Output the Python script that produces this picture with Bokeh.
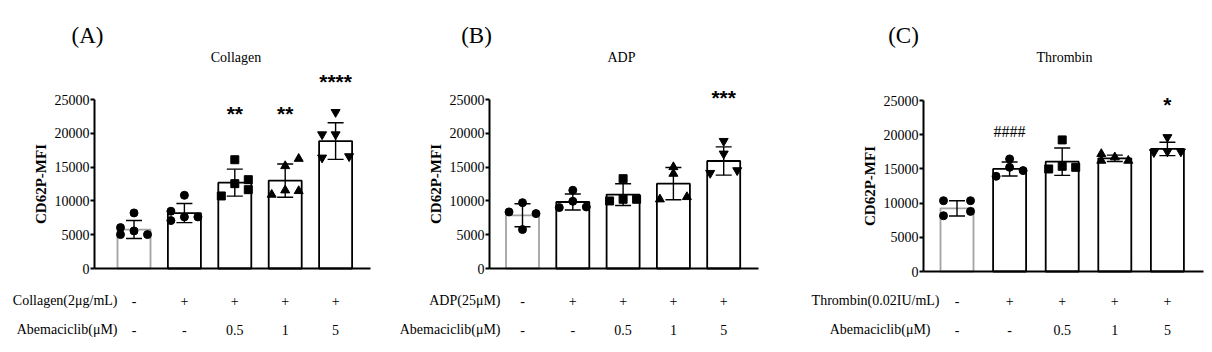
from bokeh.plotting import figure
from bokeh.layouts import row
from bokeh.models import Range1d, FixedTicker, NumeralTickFormatter, Label
from bokeh.embed import file_html
from bokeh.resources import INLINE

# ---------------- data ----------------
GROUPS = [1, 2, 3, 4, 5]
AGONIST_SIGNS = ["-", "+", "+", "+", "+"]
ABEMA_DOSES = ["-", "-", "0.5", "1", "5"]
Y_TICKS = [0, 5000, 10000, 15000, 20000, 25000]
MARKERS = ["circle", "circle", "square", "triangle", "inverted_triangle"]

A_TITLE = "Collagen"
A_ROW1 = "Collagen(2μg/mL)"
A_MEAN = [5760, 8200, 12700, 13000, 18850]
A_SD = [1330, 1420, 2000, 2450, 2700]
A_PTS = [[5020, 6050, 8220, 5560, 5020],
         [8470, 7090, 10830, 7630, 7630],
         [10730, 12550, 16090, 13140, 11660],
         [10930, 11570, 15160, 16240, 11470],
         [19830, 16390, 19830, 23130, 16590]]
A_SLOTS = [[-1, -1, 0, 0, 1], [-1, -1, 0, 0, 1], [-1, 0, 0, 1, 1],
           [-1, 0, 0, 1, 1], [-1, -1, 0, 0, 1]]
A_SIG = ["", "", "**", "**", "****"]
A_SIG_Y = [0, 0, 22950, 22950, 27650]

B_TITLE = "ADP"
B_ROW1 = "ADP(25μM)"
B_MEAN = [7870, 9840, 10930, 12550, 15900]
B_SD = [1700, 1180, 1600, 2390, 2090]
B_PTS = [[8370, 9740, 8120, 5760],
         [9010, 11570, 9940, 9100],
         [9990, 13290, 10240, 10240],
         [10240, 15010, 14030, 10580],
         [14120, 18850, 16980, 14520]]
B_SLOTS = [[-1, 0, 1, 0], [-1, 0, 0, 1], [-1, 0, 0, 1], [-1, 0, 0, 1], [-1, 0, 0, 1]]
B_SIG = ["", "", "", "", "***"]
B_SIG_Y = [0, 0, 0, 0, 25300]

C_TITLE = "Thrombin"
C_ROW1 = "Thrombin(0.02IU/mL)"
C_MEAN = [9230, 14990, 16060, 16550, 17920]
C_SD = [1120, 1025, 2000, 464, 977]
C_PTS = [[10350, 10350, 8150, 8790],
         [13920, 16460, 15230, 14750],
         [14990, 19240, 15380, 15230],
         [17190, 16210, 16700, 16210],
         [17430, 19630, 17530, 17530]]
C_SLOTS = [[-1, 1, -1, 1], [-1, 0, 0, 1], [-1, 0, 0, 1], [-1, -1, 0, 1], [-1, 0, 0, 1]]
C_SIG = ["", "####", "", "", "*"]
C_SIG_Y = [0, 20400, 0, 0, 24350]

ROW2 = "Abemaciclib(μM)"

SERIF = "Liberation Serif"
SANS = "Liberation Sans"
GRAY = "#a3a3a3"
H = 352


def panel(letter, title, row1, mean, sd, pts, slots, sig, sig_y, lay):
    x0 = lay["x0"]
    w = lay["w"]
    sp = lay["sp"]
    y0 = lay["y0"]
    y25 = lay["y25"]
    kpx = 25000.0 / (y0 - y25)  # data per px

    def dx(px_abs):
        return 1 + (px_abs - lay["first"]) / sp

    def dy(py):
        return (y0 - py) * kpx

    p = figure(width=w, height=H, output_backend="svg", toolbar_location=None,
               x_range=Range1d(dx(x0), dx(x0 + w)),
               y_range=Range1d(dy(H), dy(0)),
               min_border=0)
    p.outline_line_color = None
    p.grid.visible = False
    p.background_fill_color = "white"
    p.border_fill_color = "white"

    # y axis
    ya = p.yaxis[0]
    ya.fixed_location = dx(lay["axis"])
    ya.ticker = FixedTicker(ticks=Y_TICKS)
    ya.formatter = NumeralTickFormatter(format="0")
    ya.bounds = (0, 25000)
    ya.axis_line_width = 2
    ya.major_tick_line_width = 2
    ya.major_tick_out = 4
    ya.major_tick_in = 0
    ya.minor_tick_line_color = None
    ya.major_label_standoff = 1
    ya.major_label_text_font = SERIF
    ya.major_label_text_font_size = "14px"
    ya.major_label_text_color = "black"
    ya.axis_label = "CD62P-MFI"
    ya.axis_label_text_font = SERIF
    ya.axis_label_text_font_style = "bold"
    ya.axis_label_text_font_size = "15px"
    ya.axis_label_standoff = 3
    ya.axis_label_text_color = "black"

    xa = p.xaxis[0]
    xa.fixed_location = 0
    xa.bounds = (dx(lay["axis"]), dx(lay["end"]))
    xa.ticker = FixedTicker(ticks=[])
    xa.axis_line_width = 2
    xa.major_tick_line_color = None
    xa.minor_tick_line_color = None
    xa.major_label_text_font_size = "0px"

    bw = 33.0 / sp
    line_colors = [GRAY] + ["black"] * (len(GROUPS) - 1)
    p.vbar(x=GROUPS, top=mean, width=bw, bottom=0, fill_color="white",
           line_color=line_colors, line_width=1.8)

    up = [m + s for m, s in zip(mean, sd)]
    lo = [m - s for m, s in zip(mean, sd)]
    cap = 8.0 / sp
    p.segment(x0=GROUPS, y0=lo, x1=GROUPS, y1=up, line_color="black", line_width=1.4)
    p.segment(x0=[g - cap for g in GROUPS], y0=up, x1=[g + cap for g in GROUPS], y1=up,
              line_color="black", line_width=1.4)
    p.segment(x0=[g - cap for g in GROUPS], y0=lo, x1=[g + cap for g in GROUPS], y1=lo,
              line_color="black", line_width=1.4)

    off = 13.5 / sp
    for g, vals, sl, mk in zip(GROUPS, pts, slots, MARKERS):
        xs = [g + s * off for s in sl]
        size = 8 if mk in ("circle", "square") else 9
        p.scatter(x=xs, y=vals, marker=mk, size=size, fill_color="black", line_color="black")

    for g, s, yy in zip(GROUPS, sig, sig_y):
        if not s:
            continue
        if "*" in s:
            p.add_layout(Label(x=g, y=yy, text=s, text_font=SANS, text_font_style="bold",
                               text_font_size="21px", text_align="center",
                               text_baseline="middle", text_color="black"))
        else:
            p.add_layout(Label(x=g, y=yy, text=s, text_font=SERIF,
                               text_font_size="16px", text_align="center",
                               text_baseline="middle", text_color="black"))

    # panel letter and title
    p.add_layout(Label(x=dx(lay["letter"]), y=dy(35), text=letter, text_font=SERIF,
                       text_font_size="23px", text_align="center", text_baseline="middle",
                       text_color="black"))
    p.add_layout(Label(x=dx(lay["title"]), y=dy(57), text=title, text_font=SERIF,
                       text_font_size="14px", text_align="center", text_baseline="middle",
                       text_color="black"))

    # condition rows
    p.add_layout(Label(x=dx(lay["r1"]), y=dy(300), text=row1, text_font=SERIF,
                       text_font_size="14px", text_align="right", text_baseline="middle",
                       text_color="black"))
    p.add_layout(Label(x=dx(lay["r2"]), y=dy(329), text=ROW2, text_font=SERIF,
                       text_font_size="14px", text_align="right", text_baseline="middle",
                       text_color="black"))
    for g, a, b in zip(GROUPS, AGONIST_SIGNS, ABEMA_DOSES):
        p.add_layout(Label(x=g, y=dy(300), text=a, text_font=SERIF, text_font_size="14px",
                           text_align="center", text_baseline="middle", text_color="black"))
        p.add_layout(Label(x=g, y=dy(329), text=b, text_font=SERIF, text_font_size="14px",
                           text_align="center", text_baseline="middle", text_color="black"))
    return p


LAY_A = dict(x0=0, w=395, axis=94, end=370, first=133.5, sp=50.4, y0=268, y25=99,
             letter=87, title=235.5, r1=117, r2=117)
LAY_B = dict(x0=395, w=405, axis=489, end=758, first=522, sp=50.3, y0=268, y25=99,
             letter=476, title=621, r1=500, r2=500)
LAY_C = dict(x0=800, w=412, axis=923, end=1203, first=956.5, sp=52.6, y0=271, y25=100,
             letter=903, title=1064, r1=939, r2=930)

pa = panel("(A)", A_TITLE, A_ROW1, A_MEAN, A_SD, A_PTS, A_SLOTS, A_SIG, A_SIG_Y, LAY_A)
pb = panel("(B)", B_TITLE, B_ROW1, B_MEAN, B_SD, B_PTS, B_SLOTS, B_SIG, B_SIG_Y, LAY_B)
pc = panel("(C)", C_TITLE, C_ROW1, C_MEAN, C_SD, C_PTS, C_SLOTS, C_SIG, C_SIG_Y, LAY_C)

layout = row(pa, pb, pc, spacing=0)
open("out.html", "w").write(file_html(layout, INLINE))
